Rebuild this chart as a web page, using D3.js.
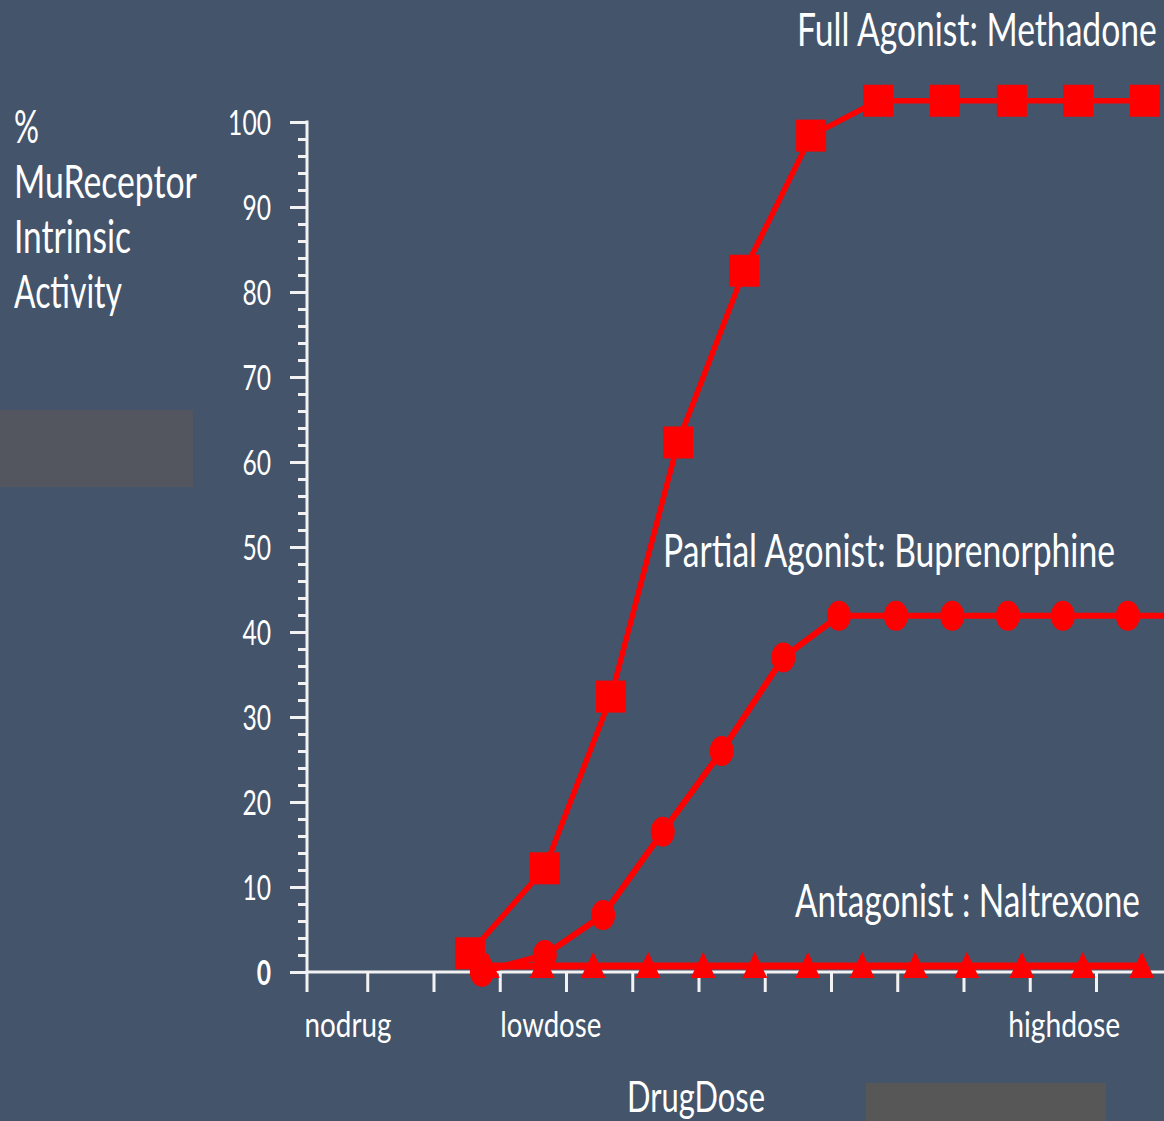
<!DOCTYPE html>
<html>
<head>
<meta charset="utf-8">
<script src="https://cdn.jsdelivr.net/npm/d3@7"></script>
<style>
  html, body { margin: 0; padding: 0; background: #44546a; }
  svg { display: block; }
  text { font-family: Lato, "Open Sans", sans-serif; fill: #ffffff; }
</style>
</head>
<body>
<svg id="chart" width="1164" height="1121"></svg>
<script>
// ---------------- data ----------------
// x values are in "dose steps" (one step per x-axis tick), y values in % activity
const methadoneDose  = [2.55, 3.68, 4.68, 5.69, 6.69, 7.70, 8.71, 9.72, 10.73, 11.73, 12.74];
const methadoneValue = [2.2, 12.2, 32.4, 62.3, 82.5, 98.4, 102.5, 102.5, 102.5, 102.5, 102.5];

const buprenorphineDose  = [2.73, 3.68, 4.56, 5.46, 6.35, 7.28, 8.12, 8.98, 9.83, 10.67, 11.50, 12.48, 13.40];
const buprenorphineValue = [0.0, 2.0, 6.7, 16.5, 26.0, 37.0, 41.9, 41.9, 41.9, 41.9, 41.9, 41.9, 41.9];

const naltrexoneDose  = [2.81, 3.64, 4.41, 5.24, 6.07, 6.85, 7.65, 8.47, 9.27, 10.05, 10.88, 11.80, 12.69];
const naltrexoneValue = [0.7, 0.7, 0.7, 0.7, 0.7, 0.7, 0.7, 0.7, 0.7, 0.7, 0.7, 0.7, 0.7];

const yMajorTicks = [0, 10, 20, 30, 40, 50, 60, 70, 80, 90, 100];
const yMinorTicks = d3.range(0, 101, 2).filter(v => v % 10 !== 0);
const xTicks = [1, 2, 3, 4, 5, 6, 7, 8, 9, 10, 11, 12];

const xLabelNames = ["nodrug", "lowdose", "highdose"];
const xLabelDose  = [0.71, 3.77, 11.52];

const seriesNames = ["Full Agonist: Methadone", "Partial Agonist: Buprenorphine", "Antagonist : Naltrexone"];
const yTitleLines = ["%", "MuReceptor", "Intrinsic", "Activity"];
const xTitle = "DrugDose";

// ---------------- layout ----------------
const svg = d3.select("#chart");
const W = 1164, H = 1121;
const BG = "#44546a", AXIS = "#f2f2f2", RED = "#ff0000";
const axisX = 307;

const x = d3.scaleLinear().domain([0, 12]).range([301, 1096]);
const y = d3.scaleLinear().domain([0, 100]).range([972, 122]);

svg.append("rect").attr("width", W).attr("height", H).attr("fill", BG);
// grey patches present in the picture
svg.append("rect").attr("x", 0).attr("y", 410).attr("width", 193).attr("height", 77).attr("fill", "#53555f");
svg.append("rect").attr("x", 866).attr("y", 1083).attr("width", 240).attr("height", 38).attr("fill", "#575757");

// narrow text: the source uses a condensed look, so glyphs are squeezed horizontally
function addText(str, xPos, baseline, size, width, anchor, weight) {
  const t = svg.append("text")
    .attr("x", 0).attr("y", 0)
    .attr("font-size", size)
    .attr("text-anchor", anchor || "start")
    .text(str);
  if (weight) t.attr("font-weight", weight);
  const natural = t.node().getComputedTextLength() || width;
  const sx = width / natural;
  t.attr("transform", `translate(${xPos},${baseline}) scale(${sx},1)`);
  return t;
}

// ---------------- axes ----------------
// minor y ticks
const yMinor = svg.append("g").attr("transform", `translate(${axisX},0)`)
  .call(d3.axisLeft(y).tickValues(yMinorTicks).tickSize(9).tickSizeOuter(0).tickFormat(""));
yMinor.select(".domain").remove();
yMinor.selectAll("line").attr("stroke", AXIS).attr("stroke-width", 3);

// major y ticks
const yMajor = svg.append("g").attr("transform", `translate(${axisX},0)`)
  .call(d3.axisLeft(y).tickValues(yMajorTicks).tickSize(17).tickSizeOuter(0).tickFormat(""));
yMajor.select(".domain").remove();
yMajor.selectAll("line").attr("stroke", AXIS).attr("stroke-width", 3);
// major y labels (condensed)
const yFmt = d3.format("d");
yMajorTicks.forEach(v => {
  const s = yFmt(v);
  addText(s, axisX - 36, y(v) + 13, 35, s.length * 14.3, "end", v === 0 ? "bold" : null);
});

// x ticks
const xAxisG = svg.append("g").attr("transform", `translate(0,${y(0)})`)
  .call(d3.axisBottom(x).tickValues(xTicks).tickSize(20).tickSizeOuter(0).tickFormat(""));
xAxisG.select(".domain").remove();
xAxisG.selectAll("line").attr("stroke", AXIS).attr("stroke-width", 3);

// axis lines
svg.append("line").attr("x1", axisX).attr("x2", axisX).attr("y1", y(100) - 1.5).attr("y2", y(0) + 20)
  .attr("stroke", AXIS).attr("stroke-width", 3);
svg.append("line").attr("x1", axisX).attr("x2", W).attr("y1", y(0)).attr("y2", y(0))
  .attr("stroke", AXIS).attr("stroke-width", 3);

// x category labels
const xLabelWidths = [87, 101, 112];
xLabelNames.forEach((n, i) => {
  addText(n, x(xLabelDose[i]), 1037, 35, xLabelWidths[i], "middle");
});

// ---------------- series ----------------
const line = d3.line().x(d => x(d[0])).y(d => y(d[1]));

const methadone = methadoneDose.map((d, i) => [d, methadoneValue[i]]);
const bupren = buprenorphineDose.map((d, i) => [d, buprenorphineValue[i]]);
const naltrex = naltrexoneDose.map((d, i) => [d, naltrexoneValue[i]]);

// methadone: squares
svg.append("path").datum(methadone).attr("d", line)
  .attr("fill", "none").attr("stroke", RED).attr("stroke-width", 5.5).attr("stroke-linejoin", "round");
svg.append("g").selectAll("rect").data(methadone).join("rect")
  .attr("x", d => x(d[0]) - 15).attr("y", d => y(d[1]) - 16)
  .attr("width", 30).attr("height", 32).attr("fill", RED);

// buprenorphine: circles
svg.append("path").datum(bupren).attr("d", line)
  .attr("fill", "none").attr("stroke", RED).attr("stroke-width", 6).attr("stroke-linejoin", "round");
svg.append("g").selectAll("ellipse").data(bupren).join("ellipse")
  .attr("cx", d => x(d[0])).attr("cy", d => y(d[1]))
  .attr("rx", 12).attr("ry", 15).attr("fill", RED);

// naltrexone: triangles
svg.append("path").datum(naltrex).attr("d", line)
  .attr("fill", "none").attr("stroke", RED).attr("stroke-width", 7);
svg.append("g").selectAll("path").data(naltrex).join("path")
  .attr("transform", d => `translate(${x(d[0])},${y(d[1])})`)
  .attr("d", "M0,-14 L12.5,12 L-12.5,12 Z")
  .attr("fill", RED);

// ---------------- titles ----------------
addText(seriesNames[0], 797, 46, 45.5, 360);
addText(seriesNames[1], 663, 567, 45.5, 452);
addText(seriesNames[2], 795, 917, 45.5, 345);

const yTitleWidths = [25, 183, 117, 108];
yTitleLines.forEach((s, i) => {
  addText(s, 14, 143 + i * 55, 45.5, yTitleWidths[i]);
});

addText(xTitle, 627, 1111.5, 42.5, 138);
</script>
</body>
</html>
